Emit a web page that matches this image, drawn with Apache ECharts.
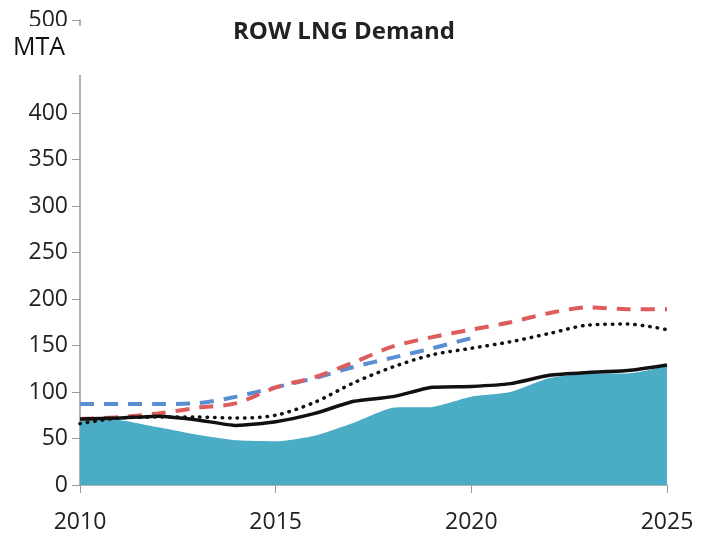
<!DOCTYPE html>
<html>
<head>
<meta charset="utf-8">
<script src="https://cdn.jsdelivr.net/npm/echarts@6/dist/echarts.min.js"></script>
<style>
  html, body { margin: 0; padding: 0; background: #fff; }
  #chart { width: 702px; height: 537px; }
</style>
</head>
<body>
<div id="chart"></div>
<script>
// years and series values (MTA)
var years = ['2010','2011','2012','2013','2014','2015','2016','2017','2018','2019','2020','2021','2022','2023','2024','2025'];
var actual = [72, 70, 62, 54, 48, 47, 53, 67, 83, 84, 95, 100, 115, 120, 120, 128];
var solidLine = [71, 72, 74, 70, 64, 68, 77, 90, 95, 105, 106, 109, 118, 121, 123, 129];
var dottedLine = [66, 72, 73, 73, 72, 75, 89, 110, 127, 140, 147, 154, 163, 172, 173, 167];
var redDash = [71, 73, 77, 83, 88, 105, 116, 132, 149, 159, 167, 175, 185, 191, 189, 189];
var blueDash = [87, 87, 87, 88, 95, 105, 115, 127, 137, 147, 158, null, null, null, null, null];
var yTicks = [0, 50, 100, 150, 200, 250, 300, 350, 400, 450, 500];

var labelFont = '"Open Sans", "Noto Sans", sans-serif';

function initChart() {
    var myChart = echarts.init(document.getElementById('chart'));

    var option = {
        animation: false,
        title: {
            text: 'ROW LNG Demand',
            left: 339,
            top: 15,
            textAlign: 'center',
            textStyle: { fontFamily: labelFont, fontWeight: 'bold', fontSize: 24, color: '#222' }
        },
        grid: { left: 80, right: 35, top: 20, bottom: 52 },
        xAxis: {
            type: 'category',
            data: years,
            boundaryGap: false,
            axisLine: { lineStyle: { color: '#999', width: 1.5 } },
            axisTick: { interval: 4, length: 8, lineStyle: { color: '#999' } },
            axisLabel: { interval: 4, margin: 26, fontSize: 23, fontFamily: labelFont, color: '#222' }
        },
        yAxis: {
            type: 'value',
            min: yTicks[0],
            max: yTicks[yTicks.length - 1],
            interval: 50,
            axisLine: { show: true, lineStyle: { color: '#999', width: 1.5 } },
            axisTick: { show: true, length: 8, lineStyle: { color: '#999' } },
            axisLabel: { margin: 12, fontSize: 23, fontFamily: labelFont, color: '#222' },
            splitLine: { show: false }
        },
        graphic: [
            {
                type: 'rect',
                shape: { x: 4, y: 26, width: 80, height: 49 },
                style: { fill: '#fff' },
                z: 100
            },
            {
                type: 'text',
                left: 13,
                top: 35,
                style: { text: 'MTA', fontSize: 25, fontFamily: labelFont, fill: '#111' },
                z: 101
            }
        ],
        series: [
            {
                name: 'Actual',
                type: 'line',
                data: actual,
                symbol: 'none',
                smooth: 0.2,
                lineStyle: { width: 0 },
                areaStyle: { color: '#4BACC6', opacity: 1 },
                z: 1
            },
            {
                name: 'Blue',
                type: 'line',
                data: blueDash,
                symbol: 'none',
                smooth: 0.3,
                lineStyle: { color: '#5A8ED2', width: 4, type: [14, 10] },
                z: 2
            },
            {
                name: 'Red',
                type: 'line',
                data: redDash,
                symbol: 'none',
                smooth: 0.3,
                lineStyle: { color: '#DD5D5D', width: 4, type: [14, 10] },
                z: 3
            },
            {
                name: 'Dotted',
                type: 'line',
                data: dottedLine,
                symbol: 'none',
                smooth: 0.3,
                lineStyle: { color: '#111', width: 3.5, type: [0.5, 7], cap: 'round' },
                z: 4
            },
            {
                name: 'Solid',
                type: 'line',
                data: solidLine,
                symbol: 'none',
                smooth: 0.2,
                lineStyle: { color: '#111', width: 3.5 },
                z: 5
            }
        ]
    };

    myChart.setOption(option);
}

window.addEventListener('load', initChart);
</script>
</body>
</html>
